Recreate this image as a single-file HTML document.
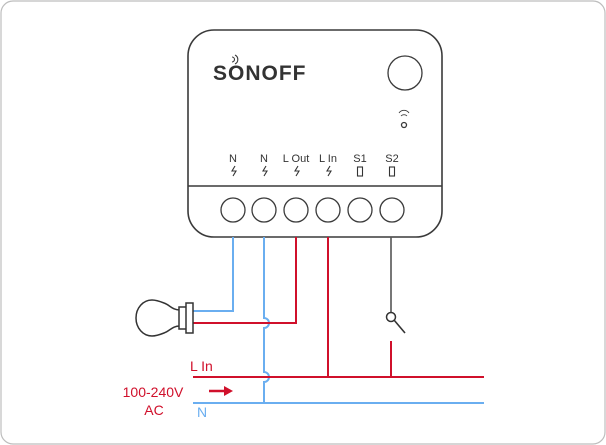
<!DOCTYPE html>
<html><head><style>body{margin:0;background:#fff}svg{display:block}</style></head><body>
<svg width="606" height="445" viewBox="0 0 606 445" xmlns="http://www.w3.org/2000/svg" font-family="'Liberation Sans', sans-serif">
<rect x="1" y="1" width="604" height="443" rx="12" fill="#fff" stroke="#bdbdbd" stroke-width="1.2"/>
<!-- device -->
<rect x="188" y="30" width="254" height="207" rx="26" fill="#fff" stroke="#3a3a3a" stroke-width="1.6"/>
<line x1="188" y1="186" x2="442" y2="186" stroke="#3a3a3a" stroke-width="1.6"/>
<g fill="none" stroke="#3a3a3a" stroke-width="1.3">
<circle cx="233" cy="210" r="12"/><circle cx="264" cy="210" r="12"/><circle cx="296" cy="210" r="12"/>
<circle cx="328" cy="210" r="12"/><circle cx="360" cy="210" r="12"/><circle cx="392" cy="210" r="12"/>
<circle cx="405" cy="73" r="17"/>
<circle cx="404" cy="125" r="2.5"/>
<path d="M401 116 a4 4 0 0 1 6 0 M399 113 a6 6 0 0 1 10 0" stroke-width="0.9"/>
<path d="M232 57 a2.5 2.5 0 0 1 0 5 M235 55 a5 5 0 0 1 0 9" stroke-width="1.1"/>
</g>
<text x="213" y="80" font-size="21" font-weight="bold" fill="#333" letter-spacing="1">SONOFF</text>
<g font-size="11" fill="#333" text-anchor="middle">
<text x="233" y="162">N</text><text x="264" y="162">N</text><text x="296" y="162">L Out</text>
<text x="328" y="162">L In</text><text x="360" y="162">S1</text><text x="392" y="162">S2</text>
</g>
<g fill="none" stroke="#333" stroke-width="1.1">
<path d="M235 166 l-3 5 h4 l-3 5"/><path d="M266 166 l-3 5 h4 l-3 5"/><path d="M298 166 l-3 5 h4 l-3 5"/><path d="M330 166 l-3 5 h4 l-3 5"/>
<rect x="357.5" y="167" width="5" height="9"/><rect x="389.5" y="167" width="5" height="9"/>
</g>
<!-- wires -->
<g fill="none" stroke-width="2">
<path d="M233 237 V311 H193" stroke="#6aaef0"/>
<path d="M264 237 V318 a5 5 0 0 1 0 10 V372 a5 5 0 0 1 0 10 V403" stroke="#6aaef0"/>
<path d="M193 403 H484" stroke="#6aaef0"/>
<path d="M296 237 V323 H193" stroke="#d0102b"/>
<path d="M328 237 V377" stroke="#d0102b"/>
<path d="M193 377 H484" stroke="#d0102b"/>
<path d="M391 341 V377" stroke="#d0102b"/>
<path d="M391 237 V312" stroke="#555" stroke-width="1.6"/>
<circle cx="391" cy="317" r="4.5" stroke="#333" stroke-width="1.5" fill="#fff"/>
<path d="M394 320 L405 333" stroke="#333" stroke-width="1.6"/>
</g>
<!-- bulb -->
<g fill="#fff" stroke="#333" stroke-width="1.5">
<path d="M180 310 C172 310 170 305 164 303 C159 301 156 300 152 300 C143 300 136 308 136 318 C136 328 143 336 152 336 C156 336 159 335 164 333 C170 331 172 326 180 326 Z"/>
<rect x="179" y="307" width="8" height="22"/>
<rect x="186" y="303" width="7" height="30"/>
</g>
<!-- labels -->
<text x="190" y="371" font-size="14" fill="#d0102b">L In</text>
<text x="153" y="397" font-size="14" fill="#d0102b" text-anchor="middle">100-240V</text>
<text x="154" y="415" font-size="14" fill="#d0102b" text-anchor="middle">AC</text>
<text x="197" y="417" font-size="14" fill="#6aaef0">N</text>
<path d="M209 391 H226" stroke="#d0102b" stroke-width="2.5"/>
<path d="M224 386 L233 391 L224 396 Z" fill="#d0102b"/>
</svg>
</body></html>
